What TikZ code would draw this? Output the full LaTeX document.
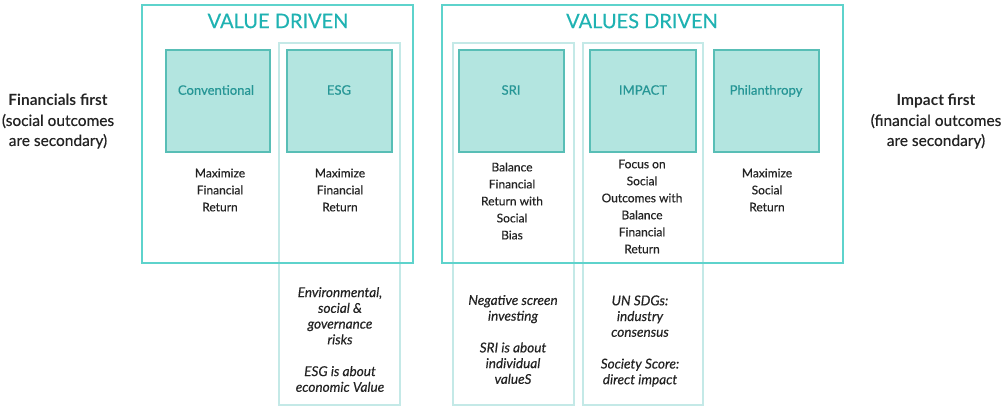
\documentclass[tikz,border=0pt]{standalone}
\usepackage{fontspec}
\setmainfont{Lato}[UprightFeatures={FakeBold=0.35},ItalicFeatures={FakeBold=0.35}]
\definecolor{groupline}{RGB}{94,211,204}
\definecolor{columnline}{RGB}{196,233,231}
\definecolor{catfill}{RGB}{179,229,224}
\definecolor{catline}{RGB}{88,190,182}
\definecolor{titleteal}{RGB}{31,178,178}
\definecolor{labelteal}{RGB}{38,150,150}
\definecolor{bodygrey}{RGB}{35,35,35}

\tikzset{every picture/.style={line width=0.75pt}}
\tikzset{
  groupbox/.style={draw=groupline, line width=1.2pt},
  columnbox/.style={draw=columnline, line width=1pt},
  catbox/.style={draw=catline, fill=catfill, line width=1.2pt},
  grouptitle/.style={text=titleteal, font=\fontsize{15}{18}\selectfont},
  catlabel/.style={text=labelteal, font=\fontsize{9.8}{12}\selectfont},
  goaltext/.style={text=bodygrey, align=center, font=\fontsize{9}{12.75}\selectfont},
  notetext/.style={text=bodygrey, align=center, font=\fontsize{10.2}{11.8}\selectfont\itshape},
  sidetext/.style={text=bodygrey, align=center, font=\fontsize{11.6}{15}\selectfont}
}

\begin{document}
\begin{tikzpicture}[x=0.75pt,y=0.75pt,yscale=-1,xscale=1]
    \useasboundingbox (0,0) rectangle (1006,408);

    %Shape: Rectangle [ESG column]
    \draw [columnbox] (279,43) -- (400,43) -- (400,405) -- (279,405) -- cycle ;
    %Shape: Rectangle [SRI column]
    \draw [columnbox] (453,43) -- (574,43) -- (574,405) -- (453,405) -- cycle ;
    %Shape: Rectangle [IMPACT column]
    \draw [columnbox] (583,43) -- (703,43) -- (703,405) -- (583,405) -- cycle ;

    %Shape: Rectangle [Value driven]
    \draw [groupbox] (142,5) -- (413,5) -- (413,263) -- (142,263) -- cycle ;
    %Shape: Rectangle [Values driven]
    \draw [groupbox] (442,5) -- (843,5) -- (843,263) -- (442,263) -- cycle ;

    %Shape: Rectangle [Conventional]
    \draw [catbox] (166,50) -- (270,50) -- (270,152) -- (166,152) -- cycle ;
    %Shape: Rectangle [ESG]
    \draw [catbox] (287,50) -- (392,50) -- (392,152) -- (287,152) -- cycle ;
    %Shape: Rectangle [SRI]
    \draw [catbox] (459,50) -- (564,50) -- (564,152) -- (459,152) -- cycle ;
    %Shape: Rectangle [IMPACT]
    \draw [catbox] (590,50) -- (696,50) -- (696,152) -- (590,152) -- cycle ;
    %Shape: Rectangle [Philanthropy]
    \draw [catbox] (714,50) -- (819,50) -- (819,152) -- (714,152) -- cycle ;

    % Text Node
    \draw (278,21) node (valuetitle) [grouptitle] {VALUE DRIVEN};
    % Text Node
    \draw (642,21) node (valuestitle) [grouptitle] {VALUES DRIVEN};

    % Text Node
    \draw (216,90) node (convlabel) [catlabel] {Conventional};
    % Text Node
    \draw (339,90) node (esglabel) [catlabel] {ESG};
    % Text Node
    \draw (511,90) node (srilabel) [catlabel] {SRI};
    % Text Node
    \draw (643,90) node (impactlabel) [catlabel] {IMPACT};
    % Text Node
    \draw (766,91) node (philanlabel) [catlabel] {Philanthropy};

    % Text Node
    \draw (220,190) node (convgoal) [goaltext] {Maximize\\Financial\\Return};
    % Text Node
    \draw (340,190) node (esggoal) [goaltext] {Maximize\\Financial\\Return};
    % Text Node
    \draw (512,201) node (srigoal) [goaltext] {Balance\\Financial\\Return with\\Social\\Bias};
    % Text Node
    \draw (642,206.5) node (impactgoal) [goaltext] {Focus on\\Social\\Outcomes with\\Balance\\Financial\\Return};
    % Text Node
    \draw (767,190) node (philangoal) [goaltext] {Maximize\\Social\\Return};

    % Text Node
    \draw (340,339.5) node (esgnote) [notetext] {Environmental,\\social \&\\governance\\risks\\[12pt]ESG is about\\economic Value};
    % Text Node
    \draw (513,339.5) node (srinote) [notetext] {Negative screen\\investing\\[12pt]SRI is about\\individual\\valueS};
    % Text Node
    \draw (640,341) node (impactnote) [notetext] {UN SDGs:\\industry\\consensus\\[12pt]Society Score:\\direct impact};

    % Text Node
    \draw (58,121.5) node (financialsfirst) [sidetext] {\bfseries Financials first\\(social outcomes\\are secondary)};
    % Text Node
    \draw (936,121.5) node (impactfirst) [sidetext] {\bfseries Impact first\\(financial outcomes\\are secondary)};
\end{tikzpicture}
\end{document}
